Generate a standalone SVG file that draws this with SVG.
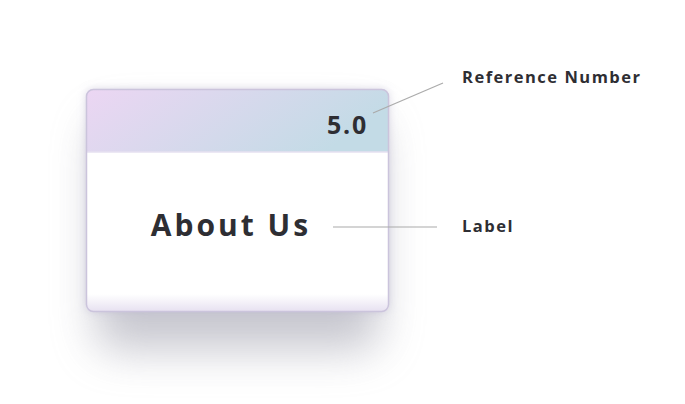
<svg xmlns="http://www.w3.org/2000/svg" width="685" height="404" viewBox="0 0 685 404">
<style>
.t{font-family:"Open Sans","Noto Sans",sans-serif;font-weight:bold;fill:#2e2e33}
.c{stroke:#aaaaaa;stroke-width:1.2;fill:none}
</style>
<defs>
<linearGradient id="hg" x1="0" y1="0" x2="1" y2="0.3">
<stop offset="0" stop-color="#ecd6f3"/>
<stop offset="1" stop-color="#c3dbe6"/>
</linearGradient>
<linearGradient id="bg" x1="0" y1="0" x2="0" y2="1">
<stop offset="0.92" stop-color="#ffffff"/>
<stop offset="1" stop-color="#e6e0f0"/>
</linearGradient>
<filter id="sh" x="-50%" y="-50%" width="200%" height="200%">
<feGaussianBlur stdDeviation="22"/>
</filter>
<filter id="sh2" x="-50%" y="-50%" width="200%" height="200%">
<feGaussianBlur stdDeviation="4"/>
</filter>
<clipPath id="cp"><rect x="86" y="89" width="303" height="223" rx="7"/></clipPath>
</defs>
<g id="card">
<rect x="96" y="120" width="283" height="230" rx="20" fill="#9a9aa8" opacity="0.55" filter="url(#sh)"/>
<rect x="86" y="89" width="303" height="223" rx="7" fill="#b9b3cf" filter="url(#sh2)" opacity="0.5"/>
<g clip-path="url(#cp)">
<rect x="86" y="89" width="303" height="223" fill="url(#bg)"/>
<rect x="86" y="89" width="303" height="63" fill="url(#hg)"/>
<line x1="86" y1="152" x2="389" y2="152" stroke="#e6e0f0" stroke-width="1.5"/>
</g>
<rect x="86.5" y="89.5" width="302" height="222" rx="7" fill="none" stroke="#cbc4dc" stroke-width="1.5"/>
<text class="t" x="368" y="134" font-size="25" text-anchor="end" letter-spacing="1.8">5.0</text>
<text class="t" x="231" y="236" font-size="30" text-anchor="middle" letter-spacing="3">About Us</text>
</g>
<g id="connectors">
<line class="c" x1="373" y1="113" x2="443" y2="83"/>
<line class="c" x1="333" y1="227" x2="437" y2="227"/>
</g>
<g id="annotations">
<text class="t" x="462" y="83" font-size="16.5" letter-spacing="1.5">Reference Number</text>
<text class="t" x="462" y="232" font-size="16.5" letter-spacing="1.5">Label</text>
</g>
</svg>
